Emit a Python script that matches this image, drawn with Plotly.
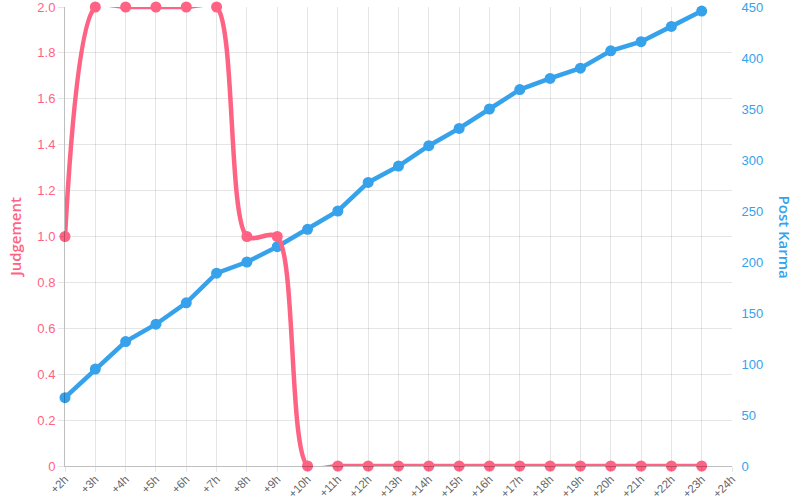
import plotly.graph_objects as go

hours = ["+2h", "+3h", "+4h", "+5h", "+6h", "+7h", "+8h", "+9h", "+10h", "+11h", "+12h",
         "+13h", "+14h", "+15h", "+16h", "+17h", "+18h", "+19h", "+20h", "+21h", "+22h",
         "+23h", "+24h"]
judgement = [1, 2, 2, 2, 2, 2, 1, 1, 0, 0, 0, 0, 0, 0, 0, 0, 0, 0, 0, 0, 0, 0]
post_karma = [67, 95, 122, 139, 160, 189, 200, 215, 232, 250, 278, 294, 314, 331, 350,
              369, 380, 390, 407, 416, 431, 446]
judgement_ticks = [0, 0.2, 0.4, 0.6, 0.8, 1.0, 1.2, 1.4, 1.6, 1.8, 2.0]
judgement_ticktext = ["0", "0.2", "0.4", "0.6", "0.8", "1.0", "1.2", "1.4", "1.6", "1.8", "2.0"]

RED = "#ff6384"
BLUE = "#36a2eb"
GRID = "rgba(0,0,0,0.1)"
FONT = "Liberation Sans, Arial, sans-serif"
TITLE_FONT = "Open Sans, Liberation Sans, sans-serif"

fig = go.Figure()
fig.add_trace(go.Scatter(
    x=hours[:len(post_karma)], y=post_karma, name="Post Karma", yaxis="y",
    mode="lines+markers", line=dict(color=BLUE, width=4.5),
    marker=dict(color=BLUE, size=11), cliponaxis=False, showlegend=False))
fig.add_trace(go.Scatter(
    x=hours[:len(judgement)], y=judgement, name="Judgement", yaxis="y2",
    mode="lines+markers", line=dict(color=RED, width=4.5, shape="spline", smoothing=0.8),
    marker=dict(color=RED, size=11), cliponaxis=False, showlegend=False))

fig.update_layout(
    width=800, height=500,
    margin=dict(l=65, r=68, t=7, b=34),
    plot_bgcolor="white", paper_bgcolor="white",
    font=dict(family=FONT, size=12, color="#666"),
    xaxis=dict(type="category", categoryorder="array", categoryarray=hours,
               range=[0, len(hours) - 1], tickangle=-45, automargin=False,
               ticklabeloverflow="allow", ticklabelstandoff=-4,
               showgrid=True, gridcolor=GRID, gridwidth=1,
               showline=True, linecolor="rgba(0,0,0,0.25)", linewidth=1,
               ticks="outside", ticklen=5, tickcolor=GRID,
               tickfont=dict(size=11.5, color="#666"), zeroline=False),
    yaxis2=dict(title=dict(text="Judgement",
                           font=dict(size=15, color=RED, family=TITLE_FONT, weight=600),
                           standoff=12),
                range=[0, 2], tickvals=judgement_ticks, ticktext=judgement_ticktext,
                side="left", overlaying="y", automargin=False,
                ticklabeloverflow="allow",
                tickfont=dict(size=13, color=RED),
                showgrid=True, gridcolor=GRID, zeroline=False,
                showline=True, linecolor="rgba(0,0,0,0.25)", linewidth=1,
                ticks="outside", ticklen=6, tickcolor=GRID),
    yaxis=dict(range=[0, 450], dtick=50, side="right", automargin=False,
               ticklabeloverflow="allow",
               tickfont=dict(size=13, color=BLUE),
               showgrid=False, zeroline=False, showline=False,
               ticks="outside", ticklen=6, tickcolor="rgba(0,0,0,0)"),
)
fig.add_annotation(text="Post Karma", x=1, xref="paper", xanchor="center", xshift=53,
                   y=0.5, yref="paper", yanchor="middle", textangle=90, showarrow=False,
                   font=dict(size=15, color=BLUE, family=TITLE_FONT, weight=600))
fig.write_html("out.html", config={"displayModeBar": False},
               post_script="document.body.style.margin='0';document.body.style.overflow='hidden';")
